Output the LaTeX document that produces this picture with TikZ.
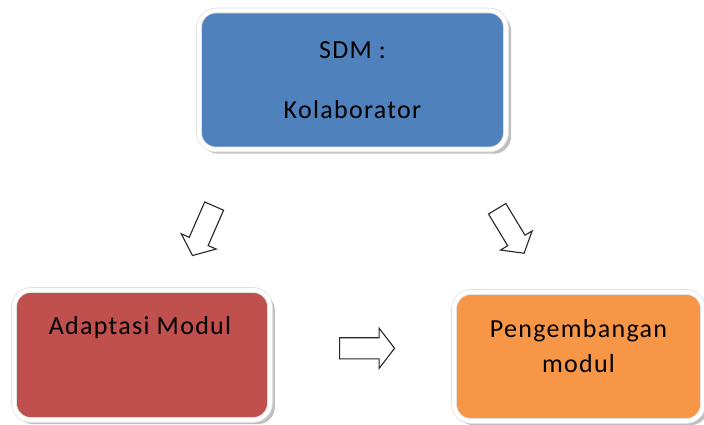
\documentclass[tikz,border=0pt]{standalone}
\usepackage{fontspec}
\setmainfont{Carlito}
\usepackage{xcolor}
\usetikzlibrary{positioning}
\usetikzlibrary{shapes, arrows, shadows}
\definecolor{sdmblue}{HTML}{4F81BD}
\definecolor{adaptred}{HTML}{C0504D}
\definecolor{devorange}{HTML}{F79646}
\newcommand{\boxtext}{\fontsize{26}{35}\selectfont\addfontfeatures{LetterSpace=5}}

\begin{document}
\begin{tikzpicture}[x=1pt, y=-1pt,
	box/.style={draw=black!12, double=white, double distance=4pt, line width=0.8pt, rounded corners=17pt, inner sep=0pt, drop shadow={shadow xshift=3.5pt, shadow yshift=-3.5pt, shadow scale=1.01, fill=black!55, opacity=0.45}},
	hollow/.style={single arrow, draw=black!85, fill=white, line width=1.1pt, inner xsep=0pt, single arrow head indent=0pt}]
			\useasboundingbox (0,0) rectangle (704,425);
			
			\node[box, fill=sdmblue, minimum width=307pt, minimum height=139pt, align=center, font=\boxtext\fontsize{26}{60}\selectfont] at (352.5, 80) (sdm) {SDM :\\Kolaborator};
			\node[box, fill=adaptred, minimum width=256pt, minimum height=130pt, label={[anchor=north, yshift=-27pt, xshift=-2pt, inner sep=0pt, font=\boxtext]north:Adaptasi Modul}] at (142, 355) (adaptasi) {};
			\node[box, fill=devorange, minimum width=249pt, minimum height=129pt, label={[anchor=north, yshift=-28pt, inner sep=0pt, align=center, font=\boxtext]north:Pengembangan\\modul}] at (578.5, 356.5) (pengembangan) {};
			
			\node[hollow, inner ysep=9.75pt, single arrow head extend=8.75pt, single arrow tip angle=102, minimum height=54pt, rotate=-113.6] at (205, 227) (arrow-adaptasi) {};
			\node[hollow, inner ysep=9.6pt, single arrow head extend=8.3pt, single arrow tip angle=102, minimum height=52pt, rotate=-58.8] at (508.5, 227.5) (arrow-pengembangan) {};
			\node[hollow, inner ysep=10pt, single arrow head extend=9.5pt, single arrow tip angle=105, minimum height=55pt] at (363, 348.3) (arrow-lanjut) {};
			
		\end{tikzpicture}
\end{document}
